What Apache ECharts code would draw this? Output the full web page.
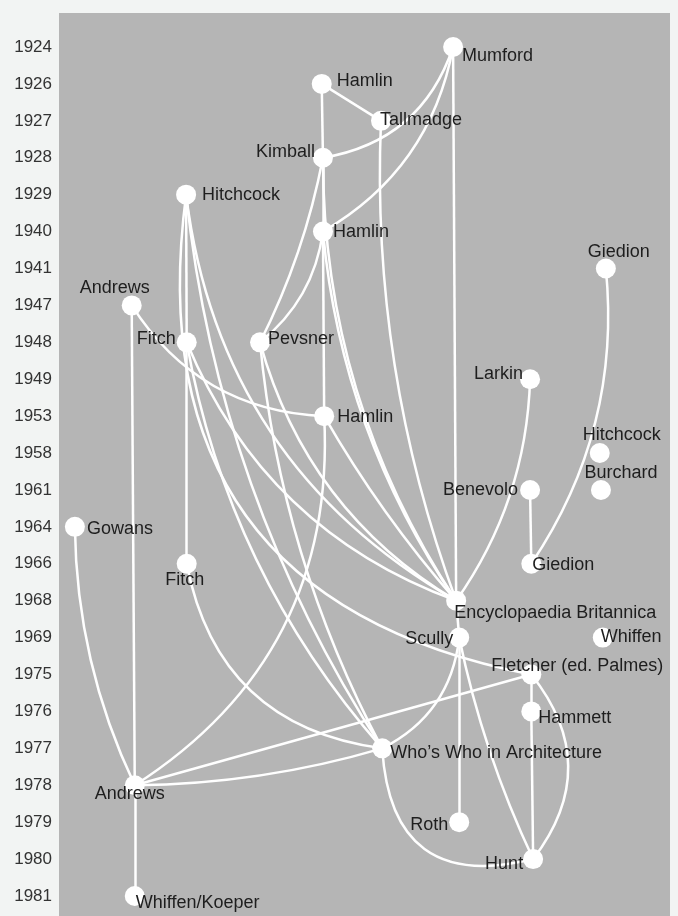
<!DOCTYPE html>
<html>
<head>
<meta charset="utf-8">
<script src="https://cdn.jsdelivr.net/npm/echarts@6/dist/echarts.min.js"></script>
<style>
  html, body { margin: 0; padding: 0; background: #f2f4f3; }
  #chart { width: 678px; height: 916px; }
</style>
</head>
<body>
<div id="chart"></div>
<script>
// rows of the time axis (top to bottom)
const years = [1924, 1926, 1927, 1928, 1929, 1940, 1941, 1947, 1948, 1949, 1953, 1958,
  1961, 1964, 1966, 1968, 1969, 1975, 1976, 1977, 1978, 1979, 1980, 1981];

// works / authors
const nodeNames = ['Mumford', 'Hamlin', 'Tallmadge', 'Kimball', 'Hitchcock', 'Hamlin', 'Giedion',
  'Andrews', 'Fitch', 'Pevsner', 'Larkin', 'Hamlin', 'Hitchcock', 'Burchard', 'Benevolo', 'Gowans',
  'Fitch', 'Giedion', 'Encyclopaedia Britannica', 'Scully', 'Whiffen', 'Fletcher (ed. Palmes)',
  'Hammett', 'Who\u2019s Who in Architecture', 'Andrews', 'Roth', 'Hunt', 'Whiffen/Koeper'];
const nodeYears = [1924, 1926, 1927, 1928, 1929, 1940, 1941, 1947, 1948, 1948, 1949, 1953, 1958,
  1961, 1961, 1964, 1966, 1966, 1968, 1969, 1969, 1975, 1976, 1977, 1978, 1979, 1980, 1981];
// horizontal column (0-100)
const nodeX = [64.5, 43.0, 52.7, 43.2, 20.8, 43.2, 89.5, 11.9, 20.9, 32.9, 77.1, 43.4, 88.5,
  88.7, 77.1, 2.6, 20.9, 77.3, 65.0, 65.5, 89.0, 77.3, 77.3, 52.9, 12.4, 65.5, 77.6, 12.4];

// citations: [source, target] by node index
const linkPairs = [
  [0, 18], [0, 3], [0, 5], [1, 2], [1, 3], [2, 18], [3, 5], [3, 9], [5, 9], [3, 18],
  [5, 11], [5, 18], [11, 18], [7, 11], [7, 24], [4, 8], [8, 16], [16, 23], [15, 24], [24, 27],
  [24, 23], [24, 21], [24, 11], [10, 18], [14, 17], [6, 17], [18, 19], [19, 25], [19, 26], [19, 23],
  [21, 22], [22, 26], [21, 26], [23, 26], [4, 18], [4, 21], [4, 23], [8, 18], [8, 23], [9, 18],
  [9, 23]
];

// styling: curve of every link, label placement of every node
const linkCurve = [
  0, 0.30, 0.23, 0, 0, -0.10, 0, 0.07, 0.2, -0.15,
  0, -0.13, -0.05, -0.26, 0, 0, 0, -0.36, -0.11, 0,
  -0.07, 0, -0.29, 0.15, 0, 0.18, 0, 0, -0.06, 0.27,
  0, 0, 0.39, -0.6, -0.25, -0.47, -0.12, -0.22, -0.14, -0.2,
  -0.1
];
const labelPlace = [
  ['right', -1, 0, 9], ['right', 5, 0, -3], ['right', -11, 0, -1], ['left', -2, 0, -6],
  ['right', 6, 0, 0], ['right', 0, 0, 0], ['top', -3, 13, 0], ['top', -2, -17, 0],
  ['left', 1, 0, -3], ['right', -2, 0, -3], ['left', -3, 0, -5], ['right', 3, 0, 1],
  ['top', -1, 22, 0], ['top', -2, 20, 0], ['left', 2, 0, 0], ['right', 2, 0, 2],
  ['bottom', -3, -2, 0], ['right', -9, 0, 1], ['right', -12, 0, 12], ['left', -4, 0, 1],
  ['right', -12, 0, -1], ['top', -11, 46, 0], ['right', -3, 0, 7], ['right', -2, 0, 5],
  ['bottom', -10, -5, 0], ['left', 1, 0, 3], ['left', 0, 0, 5], ['right', -9, 0, 7]
];

const FONT = '"Liberation Sans", Arial, Helvetica, sans-serif';

const chart = echarts.init(document.getElementById('chart'));

const nodes = nodeNames.map((n, i) => {
  const p = labelPlace[i];
  return {
    name: n + ' ' + nodeYears[i] + '#' + i,
    value: [nodeX[i], years.indexOf(nodeYears[i])],
    label: {
      show: true,
      position: p[0],
      distance: p[1],
      offset: [p[2], p[3]],
      formatter: n
    }
  };
});

const links = linkPairs.map((l, i) => ({
  source: nodes[l[0]].name,
  target: nodes[l[1]].name,
  lineStyle: { curveness: linkCurve[i] }
}));

chart.setOption({
  backgroundColor: '#f2f4f3',
  animation: false,
  grid: [
    { left: 59, right: 8, top: 13, bottom: 0, show: true, backgroundColor: '#b5b5b5', borderWidth: 0 },
    { left: 59, right: 8, top: 47, bottom: 20 }
  ],
  xAxis: [
    { gridIndex: 0, type: 'value', show: false },
    { gridIndex: 1, type: 'value', min: 0, max: 100, show: false }
  ],
  yAxis: [
    { gridIndex: 0, type: 'value', show: false },
    {
      gridIndex: 1,
      type: 'value',
      inverse: true,
      min: 0,
      max: years.length - 1,
      interval: 1,
      axisLine: { show: false },
      axisTick: { show: false },
      splitLine: { show: false },
      axisLabel: {
        margin: 7,
        color: '#333',
        fontSize: 17,
        fontFamily: FONT,
        formatter: v => years[v]
      }
    }
  ],
  series: [
    {
      type: 'graph',
      layout: 'none',
      coordinateSystem: 'cartesian2d',
      xAxisIndex: 1,
      yAxisIndex: 1,
      symbol: 'circle',
      symbolSize: 20,
      silent: true,
      itemStyle: { color: '#ffffff' },
      lineStyle: { color: '#ffffff', width: 2.5, opacity: 1 },
      label: {
        color: '#1e1e1e',
        fontSize: 18,
        fontFamily: FONT
      },
      data: nodes,
      links: links
    }
  ]
});
</script>
</body>
</html>
